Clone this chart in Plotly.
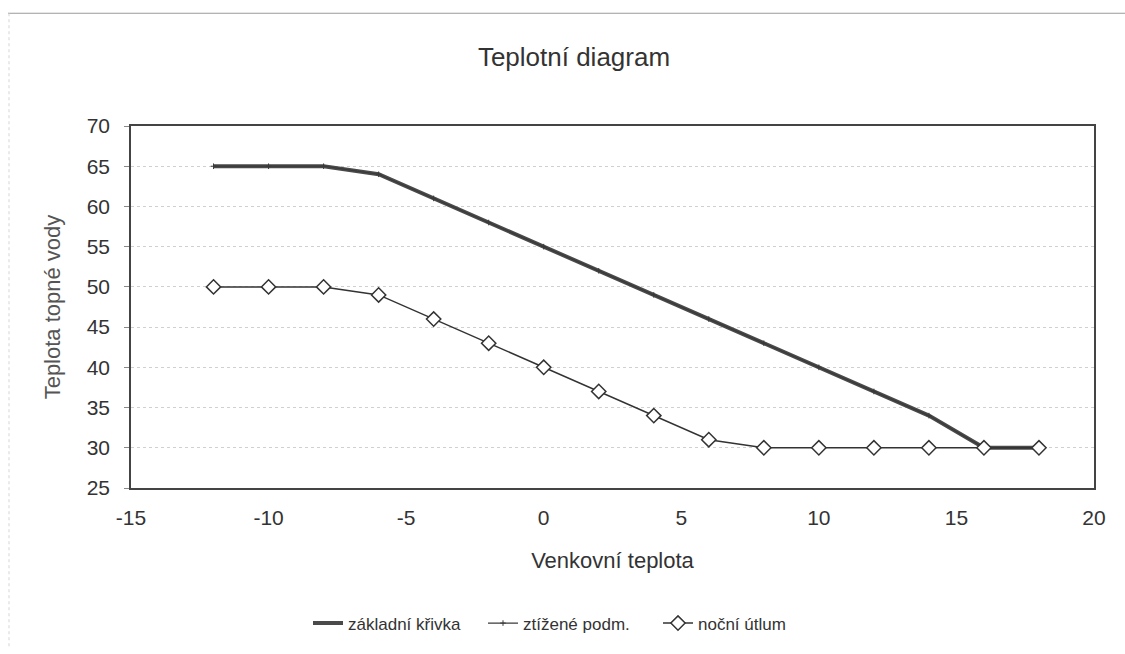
import plotly.graph_objects as go

# Data
venkovni_teplota = [-12, -10, -8, -6, -4, -2, 0, 2, 4, 6, 8, 10, 12, 14, 16, 18]
zakladni_krivka = [65, 65, 65, 64, 61, 58, 55, 52, 49, 46, 43, 40, 37, 34, 30, 30]
ztizene_podm = [65, 65, 65, 64, 61, 58, 55, 52, 49, 46, 43, 40, 37, 34, 30, 30]
nocni_utlum = [50, 50, 50, 49, 46, 43, 40, 37, 34, 31, 30, 30, 30, 30, 30, 30]
x_ticks = [-15, -10, -5, 0, 5, 10, 15, 20]
x_ticklabels = ["-15", "-10", "-5", "0", "5", "10", "15", "20"]
y_ticks = [25, 30, 35, 40, 45, 50, 55, 60, 65, 70]

W, H = 1125, 654
L, R, T, B = 131, 1094, 126, 492

FONT = "Liberation Sans, Arial, sans-serif"
TXT = "#333333"

fig = go.Figure()
fig.add_trace(go.Scatter(
    x=venkovni_teplota, y=zakladni_krivka, name="základní křivka",
    mode="lines", line=dict(color="#4a4a4a", width=4)))
fig.add_trace(go.Scatter(
    x=venkovni_teplota, y=ztizene_podm, name="ztížené podm.",
    mode="lines+markers", line=dict(color="#3a3a3a", width=1.2),
    marker=dict(symbol="cross-thin", size=4, line=dict(color="#3a3a3a", width=1))))
fig.add_trace(go.Scatter(
    x=venkovni_teplota, y=nocni_utlum, name="noční útlum",
    mode="lines+markers", line=dict(color="#333333", width=1.5),
    marker=dict(symbol="diamond", size=11, color="white",
                line=dict(color="#333333", width=1.5))))

def px_x(px):
    return (px - L) / (R - L)

def px_y(py):
    return (B - py) / (B - T)

shapes = [
    dict(type="line", xref="paper", yref="paper", x0=px_x(8), x1=px_x(1125),
         y0=px_y(12), y1=px_y(12), line=dict(color="#9a9a9a", width=1.2)),
    dict(type="line", xref="paper", yref="paper", x0=px_x(9), x1=px_x(9),
         y0=px_y(12), y1=px_y(654), line=dict(color="#d5d5d5", width=1, dash="dot")),
]

fig.update_layout(
    width=W, height=H,
    margin=dict(l=L, r=W - R, t=T, b=H - B),
    paper_bgcolor="white", plot_bgcolor="white",
    font=dict(family=FONT, color=TXT),
    title=dict(text="Teplotní diagram", x=574 / W, xanchor="center",
               y=1 - 57 / H, yanchor="middle", font=dict(size=26, color=TXT)),
    showlegend=True,
    legend=dict(orientation="h", x=px_x(308), xanchor="left",
                y=px_y(629), yanchor="middle", font=dict(size=17, color=TXT),
                entrywidth=130, entrywidthmode="pixels",
                itemwidth=30, bgcolor="rgba(0,0,0,0)"),
    shapes=shapes,
)

fig.update_xaxes(
    range=[-15, 20], tickvals=x_ticks, ticktext=x_ticklabels,
    showgrid=False, zeroline=False,
    showline=True, mirror=True, linecolor="#444444", linewidth=1.5,
    ticks="", tickfont=dict(size=21, color=TXT), ticklabelstandoff=10,
    title=dict(text="Venkovní teplota", font=dict(size=22, color=TXT), standoff=25),
)
fig.update_yaxes(
    range=[25, 70], tickvals=y_ticks,
    showgrid=True, gridcolor="#d0d0d0", griddash="dot", gridwidth=1,
    zeroline=False,
    showline=True, mirror=True, linecolor="#444444", linewidth=1.5,
    ticks="outside", ticklen=5, tickcolor="#888888",
    tickfont=dict(size=21, color=TXT), ticklabelstandoff=10,
    title=dict(text="Teplota topné vody", font=dict(size=22, color="#555555"), standoff=20),
)

fig.write_html("out.html", config={"displayModeBar": False},
               post_script="document.body.style.margin='0';document.body.style.overflow='hidden';")
